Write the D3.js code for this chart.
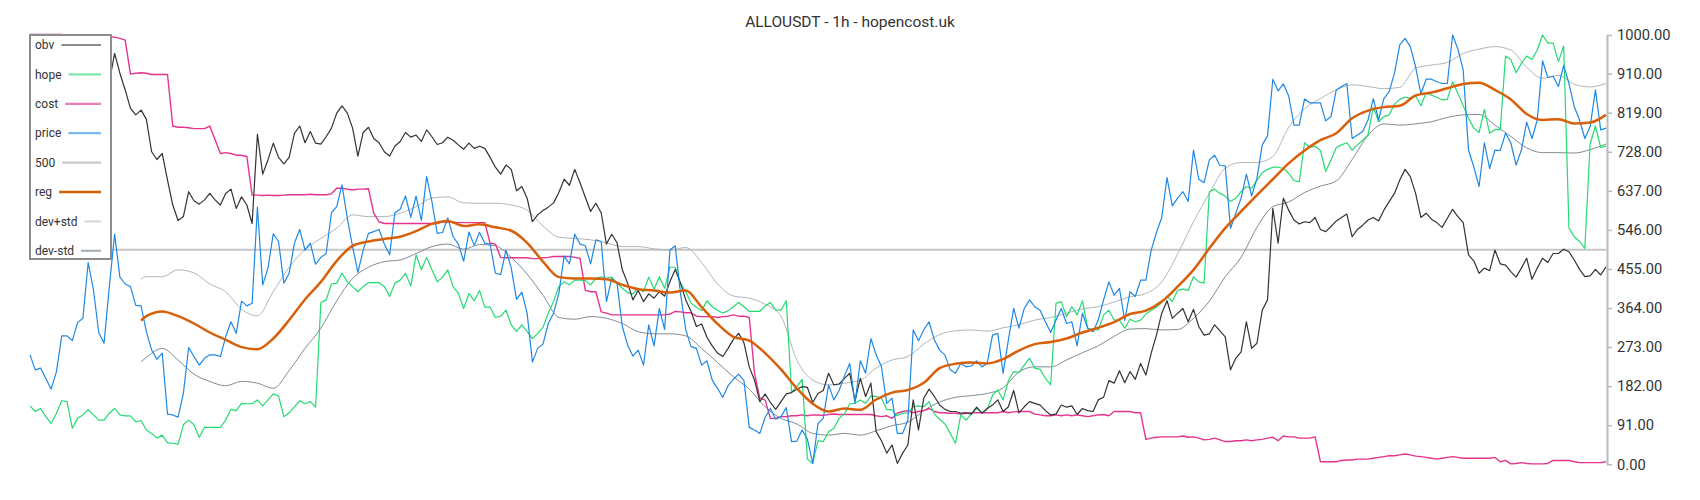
<!DOCTYPE html>
<html>
<head>
<meta charset="utf-8">
<title>ALLOUSDT - 1h</title>
<script src="https://cdn.jsdelivr.net/npm/d3@7"></script>
<style>
  html, body { margin: 0; padding: 0; background: #fff; }
  svg { display: block; font-family: Roboto, "Noto Sans", sans-serif; }
</style>
</head>
<body>
<div id="chart"></div>
<script>
// chart text
const title = "ALLOUSDT - 1h - hopencost.uk";
const legendNames = ["obv", "hope", "cost", "price", "500", "reg", "dev+std", "dev-std"];
const yTicks = [0, 91, 182, 273, 364, 455, 546, 637, 728, 819, 910, 1000];

// hourly series, one value per candle
const priceVals = [255,220,224,200,175,216,299,299,288,330,340,470,406,307,282,414,536,436,420,414,370,369,309,266,245,259,117,115,110,165,272,251,231,247,255,255,251,297,332,305,380,369,375,599,418,457,537,519,422,445,515,547,499,515,466,482,
491,586,600,651,573,507,447,499,538,542,547,513,488,586,594,625,575,625,568,670,612,538,540,574,530,513,473,541,510,540,515,513,445,442,499,457,384,401,352,238,270,280,328,352,398,485,467,536,513,509,467,523,519,
379,433,422,321,278,252,266,231,325,276,363,314,499,509,398,313,274,270,231,241,196,177,156,183,198,210,195,86,80,72,109,130,105,111,132,53,54,80,58,2,95,107,185,150,172,206,235,142,241,212,293,255,227,
142,154,72,72,103,313,288,313,332,290,266,255,220,212,235,227,229,241,227,235,301,305,212,290,363,317,363,383,367,359,332,307,336,363,328,332,276,352,317,309,336,383,425,394,410,335,402,391,429,429,499,540,575,
668,602,620,635,612,732,664,656,709,720,696,695,550,585,620,676,625,666,744,765,897,870,886,858,790,790,851,842,842,842,800,810,872,880,887,759,767,775,802,852,802,852,868,911,
977,992,973,926,863,897,897,891,887,887,1000,967,918,732,693,647,749,689,732,731,771,749,697,732,797,759,802,940,901,904,880,929,887,833,802,759,786,872,779,783];

const obvVals = [900,880,910,890,920,900,880,905,925,900,885,910,930,905,880,
891,957,911,872,829,814,825,804,728,710,724,662,604,568,577,635,614,606,616,631,616,604,631,641,596,623,604,561,769,676,709,748,715,700,715,771,788,749,775,748,746,
763,783,818,835,818,783,718,773,785,759,749,728,718,741,752,773,762,767,752,779,763,745,749,762,755,744,734,748,736,741,736,715,692,676,697,687,637,647,620,565,581,591,599,609,633,664,650,687,656,622,589,608,586,
513,536,516,453,422,383,405,379,397,387,402,392,425,454,422,383,356,321,327,296,276,259,251,270,291,305,283,227,196,146,164,144,128,146,164,167,175,181,179,144,165,172,212,185,187,200,212,148,200,158,189,76,55,
26,45,2,26,45,150,80,154,175,158,138,128,123,123,119,120,117,133,119,130,138,150,123,134,172,120,134,146,142,138,125,115,117,138,133,136,116,130,125,123,150,156,195,189,218,190,216,198,235,208,259,301,
352,381,340,352,363,332,361,321,301,304,325,311,297,220,247,262,332,270,282,359,383,596,515,620,592,569,560,565,563,575,547,542,554,567,575,583,530,547,557,569,575,567,592,612,631,
662,687,670,631,575,585,571,563,552,573,594,577,563,488,474,445,457,451,499,467,464,449,436,457,480,431,457,480,470,491,491,501,495,476,454,437,439,454,441,460];

const hopeVals = [136,123,130,111,95,119,148,146,84,107,115,127,115,103,103,119,130,115,113,113,99,102,80,72,61,68,50,49,47,92,103,92,63,86,86,86,86,103,128,125,142,141,141,150,136,150,164,159,111,120,134,148,141,146,133,
377,383,420,422,445,425,414,402,414,423,423,423,414,391,422,429,445,415,488,453,482,453,425,436,453,414,398,363,398,381,405,366,366,342,345,359,325,309,325,309,293,305,319,352,379,414,425,418,429,429,428,418,433,437,
433,436,422,410,400,397,410,402,436,408,437,410,459,459,422,402,375,366,358,381,367,359,352,358,367,377,367,356,356,356,369,377,359,359,381,169,181,198,12,2,55,53,76,84,107,117,141,142,150,142,159,158,154,
128,127,113,119,120,134,136,134,146,117,105,94,72,49,115,103,117,130,120,128,161,173,150,195,216,214,231,247,224,221,200,185,375,379,344,367,348,381,317,314,313,348,359,336,336,317,338,332,336,350,359,366,
377,392,379,405,408,405,437,425,422,635,641,631,625,612,620,635,647,643,662,679,687,692,692,689,678,661,658,749,738,741,731,682,709,738,744,749,732,744,755,767,832,798,810,814,839,
850,855,853,858,835,866,860,855,849,850,891,864,835,806,783,773,827,771,780,779,951,943,912,934,951,943,965,1000,981,981,938,974,550,530,519,503,746,788,738,741];

const costVals = [1001,1001,1001,1001,1001,1001,1001,996,996,996,996,996,996,996,996,996,995,992,988,
909,911,912,911,908,908,908,908,788,785,785,784,782,782,782,788,756,724,726,724,720,720,717,627,627,626,627,626,626,627,628,628,628,628,629,628,628,
628,630,643,643,641,639,641,641,642,585,565,561,561,561,561,561,561,561,561,561,561,561,565,564,564,563,563,563,563,563,563,515,513,482,481,481,481,481,481,479,479,481,482,484,484,484,484,482,480,405,402,402,355,
352,348,348,348,348,348,348,348,348,348,348,348,350,356,355,353,353,345,344,344,344,342,344,345,348,345,345,342,212,154,150,107,107,111,111,113,113,115,113,115,115,114,116,117,116,116,116,116,116,116,116,113,111,
113,107,119,123,125,120,123,125,130,123,120,120,119,119,117,119,120,120,120,120,120,120,123,120,122,123,123,123,117,115,113,113,115,113,115,113,115,113,111,113,115,116,113,123,123,123,123,120,120,
58,61,63,64,64,64,64,66,63,64,61,57,58,61,57,53,53,55,55,57,55,57,58,61,63,55,66,64,64,61,61,61,64,6,6,6,6,9,10,10,12,12,12,14,16,18,20,20,
22,24,22,19,18,16,14,12,14,16,18,16,14,14,14,14,14,14,16,6,9,1,2,4,2,1,1,1,2,9,9,9,9,6,4,4,4,4,4,6];

const level500 = 500;

// regression band: candle 21, then every third candle from 22
const bandIdx = [21].concat(d3.range(22, 299, 3));
const regVals = [335,345,356,345,328,307,290,273,268,293,336,384,425,474,509,519,525,530,543,560,567,555,559,552,544,516,472,436,433,433,431,
418,408,405,400,405,366,327,297,288,259,221,177,141,123,130,127,151,167,173,190,224,234,237,235,245,265,280,285,293,307,
318,331,350,358,379,414,453,503,550,589,627,664,701,731,755,771,806,824,832,835,859,866,876,886,889,872,850,816,802,804,794,796,814];
const devUpVals = [432,437,437,453,446,420,402,361,346,402,459,500,526,550,581,577,577,585,600,620,623,609,608,608,604,592,555,529,526,523,516,
507,507,502,499,505,470,420,392,387,373,345,243,196,185,189,196,224,243,251,280,302,311,313,310,318,325,336,342,352,362,
367,378,390,398,425,490,565,631,690,703,703,717,785,828,852,872,884,880,875,878,923,930,936,957,967,973,965,925,899,906,885,879,887];
const devDnVals = [239,249,270,243,210,193,183,193,189,177,218,270,317,381,433,459,472,476,491,507,513,501,512,509,482,443,394,342,338,344,340,
328,309,304,304,299,270,237,204,175,134,107,94,72,68,72,68,78,90,98,125,145,156,160,165,178,215,227,227,243,260,
276,298,315,316,313,314,340,380,437,482,552,600,611,633,648,660,710,766,793,790,793,798,808,814,815,790,764,737,726,726,725,733,746];

// styles
const style = {
  obv:   { stroke: "#333333", width: 1.2, swatch: "#8a8a8a" },
  hope:  { stroke: "#24da72", width: 1.2, swatch: "#80e6aa" },
  cost:  { stroke: "#e6338f", width: 1.4, swatch: "#ea7db6" },
  price: { stroke: "#1e88e5", width: 1.2, swatch: "#7cb8ee" },
  "500": { stroke: "#c6c6c6", width: 2, swatch: "#c8c8c8" },
  reg:   { stroke: "#d9600a", width: 2.5, swatch: "#d4620a" },
  "dev+std": { stroke: "#adb7bd", width: 1, swatch: "#d3d9dc" },
  "dev-std": { stroke: "#7f8c94", width: 1, swatch: "#a9b3b8" }
};

const W = 1700, H = 500;
const svg = d3.select("#chart").append("svg")
  .attr("width", W)
  .attr("height", H);

const N = priceVals.length;
const x = d3.scaleLinear().domain([0, N - 1]).range([30, 1606]);
const y = d3.scaleLinear().domain([0, 1000]).range([464.3, 35]);

svg.append("text")
  .attr("x", 850)
  .attr("y", 26.5)
  .attr("text-anchor", "middle")
  .attr("font-size", 15.5)
  .attr("fill", "#333")
  .text(title);

const seriesLine = d3.line().x((d, i) => x(i)).y(d => y(d));
const bandLine = d3.line().x((d, k) => x(bandIdx[k])).y(d => y(d)).curve(d3.curveMonotoneX);

function drawPath(name, dPath) {
  svg.append("path")
    .attr("fill", "none")
    .attr("stroke", style[name].stroke)
    .attr("stroke-width", style[name].width)
    .attr("stroke-linejoin", "round")
    .attr("d", dPath);
}

drawPath("500", seriesLine(new Array(N).fill(level500)));
drawPath("dev+std", bandLine(devUpVals));
drawPath("dev-std", bandLine(devDnVals));
drawPath("cost", seriesLine(costVals));
drawPath("hope", seriesLine(hopeVals));
drawPath("obv", seriesLine(obvVals));
drawPath("price", seriesLine(priceVals));
drawPath("reg", bandLine(regVals));

// right axis
const axis = d3.axisRight(y)
  .tickValues(yTicks)
  .tickFormat(d => d.toFixed(2))
  .tickSize(5)
  .tickSizeOuter(0)
  .tickPadding(5);

const axisG = svg.append("g")
  .attr("transform", "translate(1607,0)")
  .call(axis);
axisG.select(".domain").attr("stroke", "#b3bcc2").attr("stroke-width", 2);
axisG.selectAll(".tick line").attr("stroke", "#b3bcc2").attr("stroke-width", 1.5);
axisG.selectAll(".tick text")
  .attr("fill", "#333")
  .attr("font-size", 14.7)
  .attr("font-family", "Roboto, sans-serif");

// legend
const legend = svg.append("g").attr("transform", "translate(30,35)");
legend.append("rect")
  .attr("width", 81)
  .attr("height", 224)
  .attr("fill", "#fff")
  .attr("stroke", "#8c8c8c")
  .attr("stroke-width", 2);

const items = legend.selectAll(".item")
  .data(legendNames)
  .join("g")
  .attr("class", "item")
  .attr("transform", (d, i) => `translate(0,${10 + i * 29.4})`);

items.append("text")
  .attr("x", 5)
  .attr("dy", "0.35em")
  .attr("font-size", 12)
  .attr("fill", "#333")
  .text(d => d);

items.each(function(d) {
  const g = d3.select(this);
  const tw = g.select("text").node().getComputedTextLength();
  g.append("line")
    .attr("x1", 5 + tw + 7)
    .attr("x2", 71)
    .attr("stroke", style[d].swatch)
    .attr("stroke-width", d === "reg" ? 2.6 : 2.2);
});
</script>
</body>
</html>
